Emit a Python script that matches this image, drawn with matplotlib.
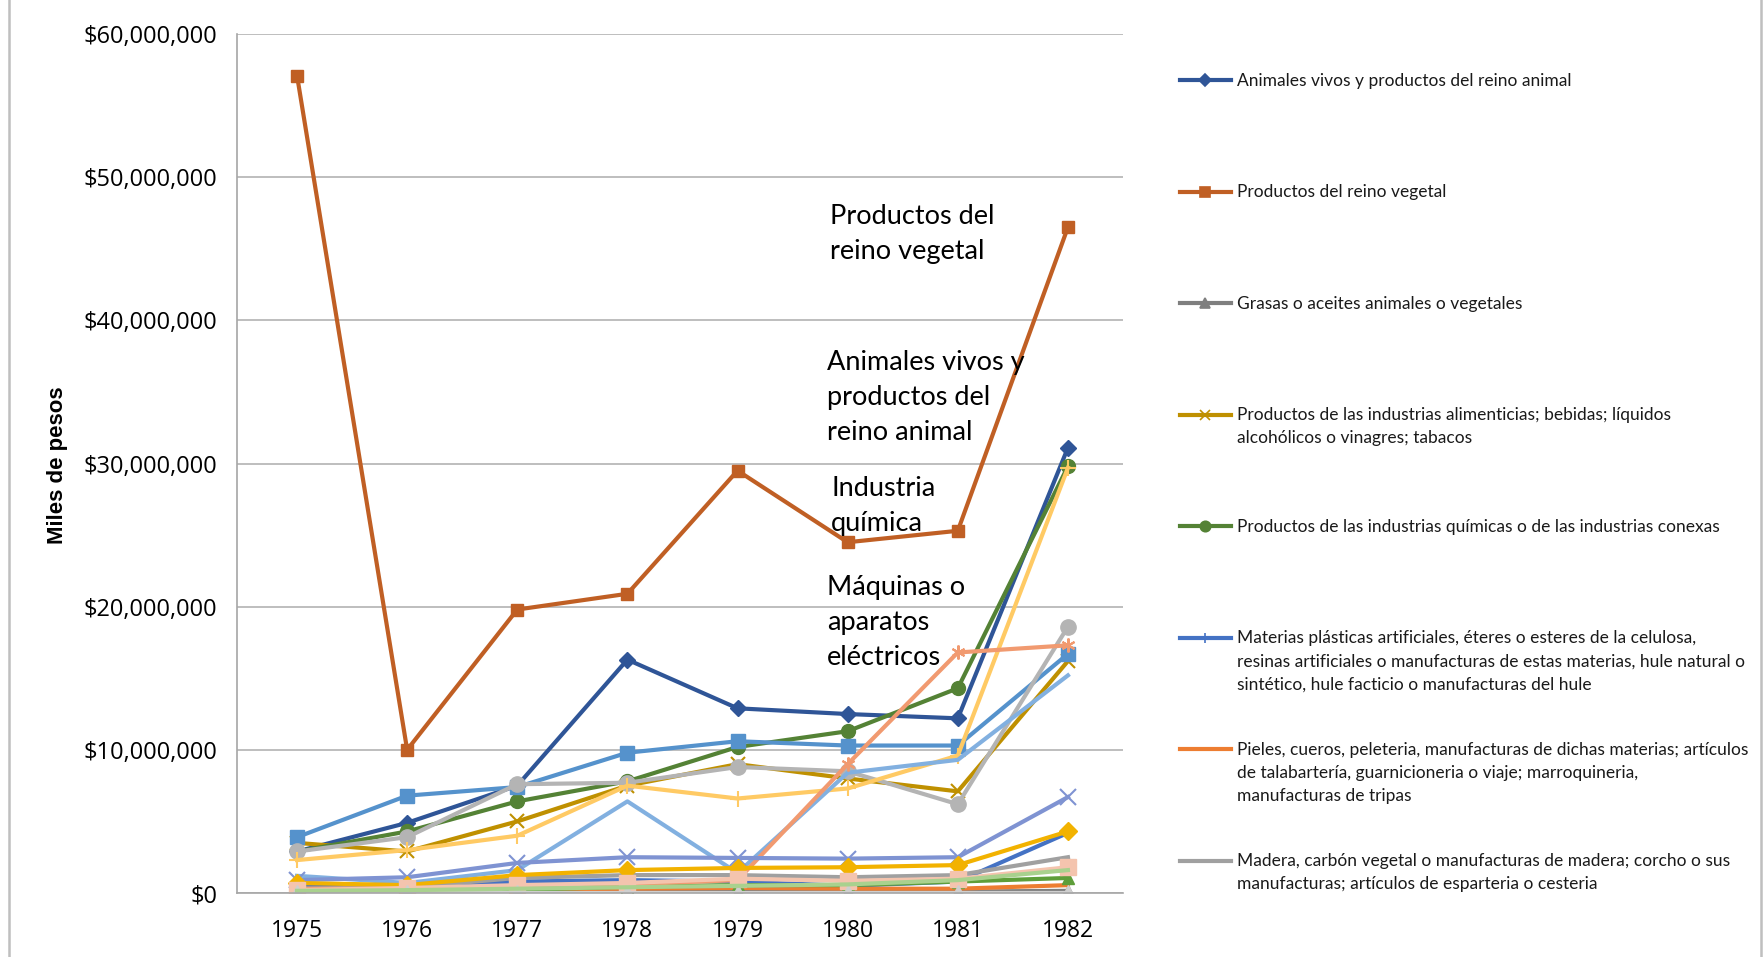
import matplotlib
matplotlib.use("Agg")
import matplotlib.pyplot as plt
from matplotlib.ticker import FuncFormatter, MultipleLocator

# ---------------- data (millions of pesos) ----------------
years = ["1975", "1976", "1977", "1978", "1979", "1980", "1981", "1982"]

animales = [2.9, 4.9, 7.5, 16.3, 12.9, 12.5, 12.2, 31.1]
vegetal = [57.1, 10.0, 19.8, 20.9, 29.5, 24.5, 25.3, 46.5]
grasas = [0.1, 0.1, 0.1, 0.1, 0.1, 0.1, 0.1, 0.15]
alimentos = [3.5, 2.9, 5.0, 7.5, 9.0, 8.0, 7.1, 16.2]
quimicas = [2.9, 4.3, 6.4, 7.8, 10.2, 11.3, 14.3, 29.8]
plasticos = [0.5, 0.5, 0.8, 0.9, 0.8, 0.5, 0.8, 4.2]
pieles = [0.2, 0.2, 0.25, 0.3, 0.35, 0.3, 0.3, 0.55]
madera = [0.3, 0.4, 1.05, 1.25, 1.25, 1.1, 1.25, 2.5]
serie_09 = [3.9, 6.8, 7.4, 9.8, 10.6, 10.3, 10.3, 16.7]
serie_10 = [0.1, 0.15, 0.2, 0.45, 0.55, 0.55, 0.8, 1.05]
serie_11 = [2.9, 3.9, 7.6, 7.7, 8.8, 8.5, 6.2, 18.6]
serie_12 = [2.3, 3.0, 4.0, 7.5, 6.6, 7.3, 9.6, 29.7]
serie_13 = [1.2, 0.7, 1.6, 6.4, 1.4, 8.4, 9.3, 15.2]
maquinas = [0.3, 0.3, 0.5, 0.6, 0.9, 9.0, 16.8, 17.3]
serie_15 = [0.9, 1.1, 2.1, 2.5, 2.45, 2.4, 2.5, 6.7]
serie_16 = [0.7, 0.55, 1.25, 1.6, 1.75, 1.8, 1.95, 4.3]
serie_17 = [0.2, 0.35, 0.55, 0.7, 1.0, 0.85, 1.0, 1.8]
serie_18 = [0.02, 0.02, 0.02, 0.02, 0.02, 0.02, 0.02, 0.02]
serie_19 = [0.15, 0.2, 0.3, 0.4, 0.5, 0.6, 0.9, 1.6]

legend_labels = [
    "Animales vivos y productos del reino animal",
    "Productos del reino vegetal",
    "Grasas o aceites animales o vegetales",
    "Productos de las industrias alimenticias; bebidas; líquidos\nalcohólicos o vinagres; tabacos",
    "Productos de las industrias químicas o de las industrias conexas",
    "Materias plásticas artificiales, éteres o esteres de la celulosa,\nresinas artificiales o manufacturas de estas materias, hule natural o\nsintético, hule facticio o manufacturas del hule",
    "Pieles, cueros, peleteria, manufacturas de dichas materias; artículos\nde talabartería, guarnicioneria o viaje; marroquineria,\nmanufacturas de tripas",
    "Madera, carbón vegetal o manufacturas de madera; corcho o sus\nmanufacturas; artículos de esparteria o cesteria",
]

annotations = [
    ("Productos del\nreino vegetal", 4.84, 46.05),
    ("Animales vivos y\nproductos del\nreino animal", 4.81, 34.62),
    ("Industria\nquímica", 4.85, 27.03),
    ("Máquinas o\naparatos\neléctricos", 4.81, 18.92),
]

SCALE = 1e6

# ---------------- styles ----------------
series = [
    (animales, "#2F5597", "D", 8),
    (vegetal, "#C05F24", "s", 9),
    (grasas, "#7F7F7F", "^", 9),
    (alimentos, "#BF9000", "x", 10),
    (quimicas, "#548235", "o", 10),
    (plasticos, "#4472C4", "+", 10),
    (pieles, "#ED7D31", None, 0),
    (madera, "#A0A0A0", None, 0),
    (serie_09, "#5592CC", "s", 10),
    (serie_10, "#5E9E3A", "^", 9),
    (serie_11, "#B4B4B4", "o", 11),
    (serie_12, "#FFCA64", "+", 11),
    (serie_13, "#82B0E0", None, 0),
    (maquinas, "#F19A70", (6, 2, 0), 10),
    (serie_15, "#7F93D2", "x", 11),
    (serie_16, "#F2B200", "D", 9),
    (serie_17, "#F4C4AE", "s", 11),
    (serie_18, "#CFCFCF", "^", 11),
    (serie_19, "#A9D18E", None, 0),
]

W, H = 1765, 957
fig = plt.figure(figsize=(W / 100, H / 100), dpi=100)

# overlay axes in pixel coordinates for legend / borders
lax = fig.add_axes([0, 0, 1, 1], zorder=0)
lax.set_xlim(0, W)
lax.set_ylim(H, 0)
lax.axis("off")
lax.plot([9, 9], [0, H], color="#BFBFBF", lw=1.8)
lax.plot([1761, 1761], [0, H], color="#BFBFBF", lw=1.8)

ax_l, ax_r, ax_t, ax_b = 237, 1123, 34, 893
ax = fig.add_axes([ax_l / W, 1 - ax_b / H, (ax_r - ax_l) / W, (ax_b - ax_t) / H], zorder=1)
ax.patch.set_alpha(0)

x = list(range(len(years)))
for vals, col, mk, ms in series:
    y = [v * SCALE for v in vals]
    if mk is None:
        ax.plot(x, y, color=col, lw=3.0, solid_joinstyle="round")
    else:
        mew = 1.5 if mk in ("x", "+") or isinstance(mk, tuple) else 1
        ax.plot(x, y, color=col, lw=3.0, marker=mk, markersize=ms,
                markeredgewidth=mew, markerfacecolor=col, markeredgecolor=col,
                solid_joinstyle="round")

ax.set_xlim(-0.545, 7.5)
ax.set_ylim(0, 60e6)
ax.yaxis.set_major_locator(MultipleLocator(10e6))
ax.yaxis.set_major_formatter(FuncFormatter(lambda v, p: "${:,.0f}".format(v)))
ax.set_xticks(x)
ax.set_xticklabels(years)
ax.grid(axis="y", color="#B3B3B3", lw=1.2)
ax.set_axisbelow(True)
for s in ("top", "right"):
    ax.spines[s].set_visible(False)
for s in ("left", "bottom"):
    ax.spines[s].set_color("#A6A6A6")
    ax.spines[s].set_linewidth(1.2)
ax.tick_params(axis="both", length=0, labelsize=17, colors="#000000")
ax.tick_params(axis="x", labelsize=16.5, pad=19)
ax.tick_params(axis="y", pad=14)
for lbl in ax.get_xticklabels() + ax.get_yticklabels():
    lbl.set_fontfamily("Open Sans")

for txt, xx, yy in annotations:
    ax.text(xx, yy * SCALE, txt, ha="left", va="center", fontsize=19.5,
            family="Lato", linespacing=1.5, color="#000000")

fig.text(58 / W, 1 - 465 / H, "Miles de pesos", rotation=90, ha="center", va="center",
         fontsize=16, fontweight="bold", family="Liberation Sans")

# manual legend (evenly spaced first lines like the reference)
leg_y0, leg_dy = 80, 111.5
fs = 12.5
fpx = fs * 100 / 72
for i, lab in enumerate(legend_labels):
    vals, col, mk, ms = series[i]
    yy = leg_y0 + i * leg_dy
    lax.plot([1180, 1231], [yy, yy], color=col, lw=3.0)
    if mk is not None:
        lax.plot([1205.5], [yy], marker=mk, color=col, markersize=ms * 0.75,
                 markeredgewidth=1.2, markerfacecolor=col, markeredgecolor=col)
    lax.text(1237, yy - 0.36 * fpx - 1, lab, ha="left", va="top", fontsize=fs,
             family="Lato", linespacing=1.55, color="#1A1A1A")

fig.savefig("out.png", dpi=100)
